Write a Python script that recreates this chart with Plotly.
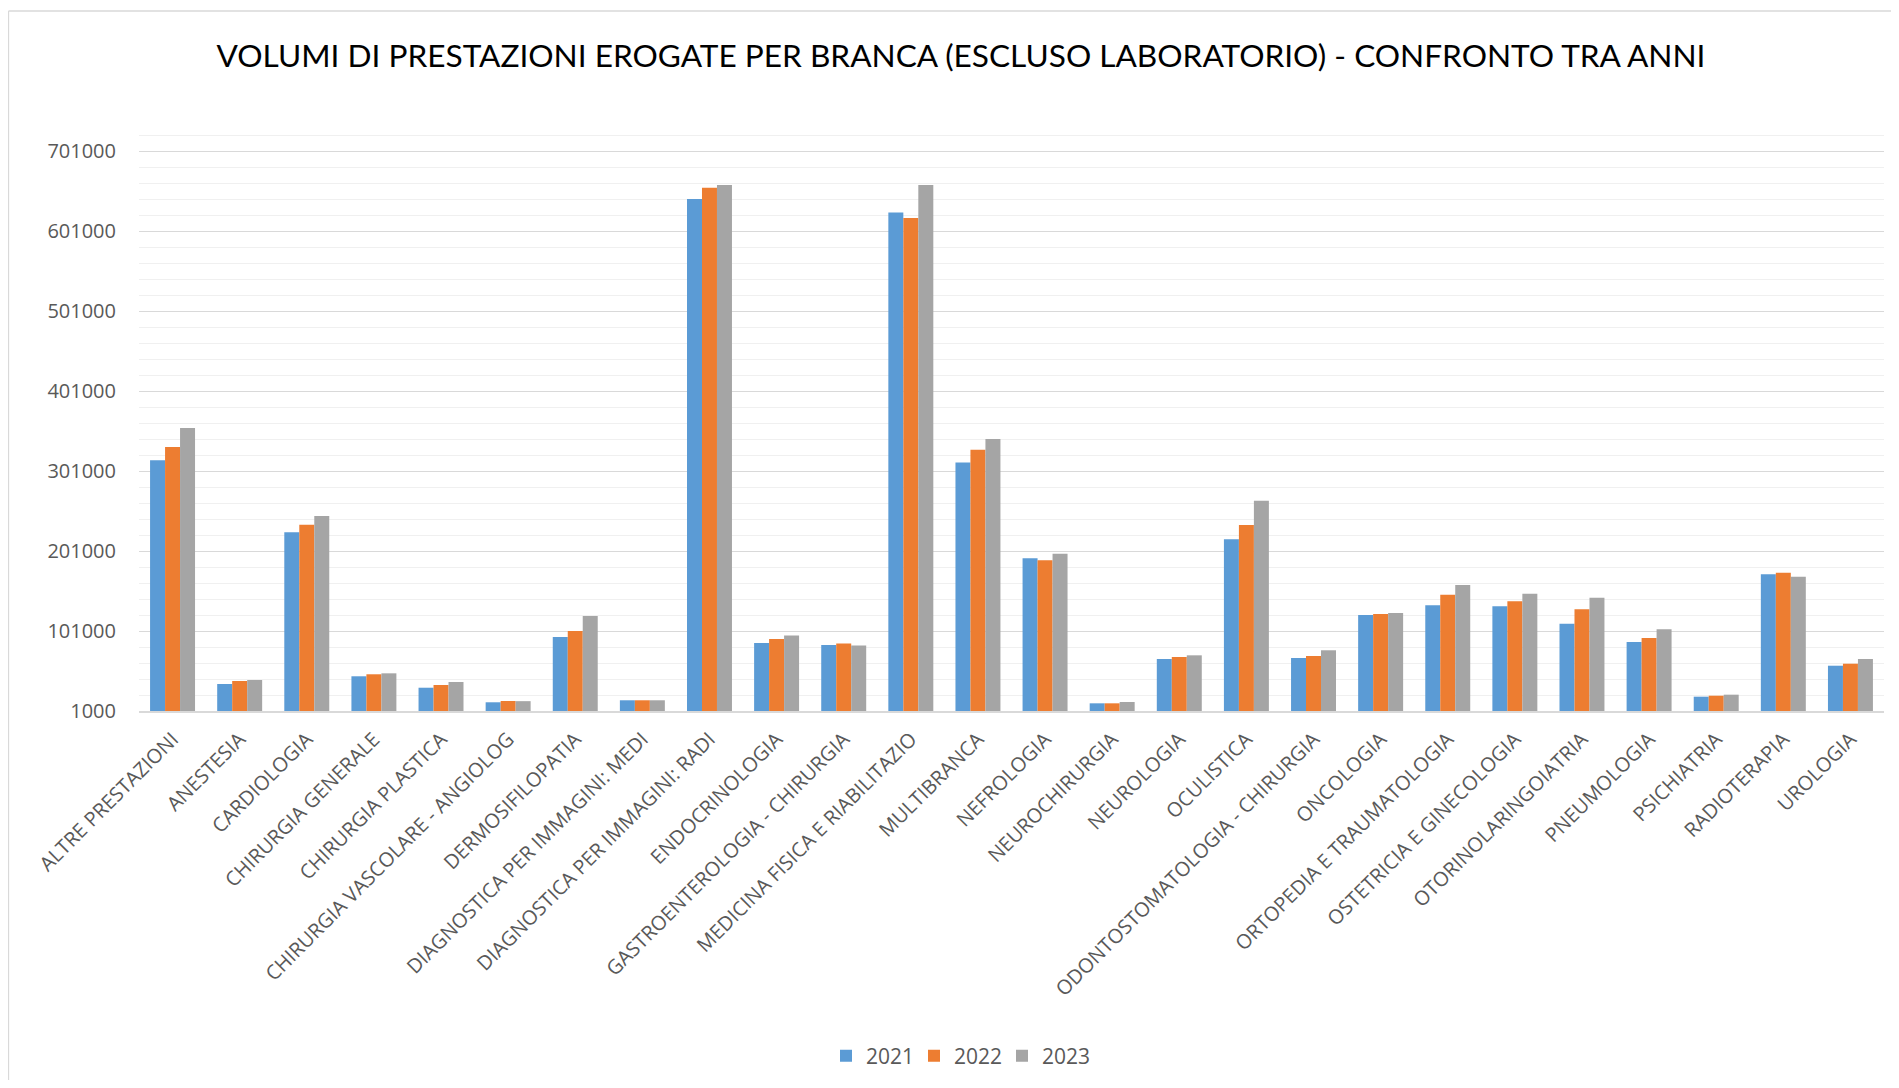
import plotly.graph_objects as go

categories = [
    "ALTRE PRESTAZIONI", "ANESTESIA", "CARDIOLOGIA", "CHIRURGIA GENERALE",
    "CHIRURGIA PLASTICA", "CHIRURGIA VASCOLARE - ANGIOLOG", "DERMOSIFILOPATIA",
    "DIAGNOSTICA PER IMMAGINI: MEDI", "DIAGNOSTICA PER IMMAGINI: RADI",
    "ENDOCRINOLOGIA", "GASTROENTEROLOGIA - CHIRURGIA", "MEDICINA FISICA E RIABILITAZIO",
    "MULTIBRANCA", "NEFROLOGIA", "NEUROCHIRURGIA", "NEUROLOGIA", "OCULISTICA",
    "ODONTOSTOMATOLOGIA - CHIRURGIA", "ONCOLOGIA", "ORTOPEDIA E TRAUMATOLOGIA",
    "OSTETRICIA E GINECOLOGIA", "OTORINOLARINGOIATRIA", "PNEUMOLOGIA",
    "PSICHIATRIA", "RADIOTERAPIA", "UROLOGIA",
]

v2021 = [314400, 34750, 224400, 44400, 30100, 11900, 93500, 14400, 641000, 85900,
         83600, 624100, 311500, 191900, 10600, 66000, 215600, 67250, 121000, 133100,
         131900, 110100, 87250, 18900, 171900, 57600]
v2022 = [331000, 38500, 233900, 46900, 33500, 13500, 101000, 14400, 655000, 90900,
         85400, 617400, 327700, 189400, 10600, 68500, 233500, 69750, 122250, 146400,
         138100, 128100, 92250, 20100, 173900, 60100]
v2023 = [354750, 39750, 244750, 48100, 37250, 13300, 119750, 14400, 658600, 95400,
         83000, 658600, 341000, 197600, 12250, 70600, 263900, 76900, 123500, 158500,
         147600, 142600, 103100, 21400, 168900, 66000]

series_names = ["2021", "2022", "2023"]
colors = ["#5B9BD5", "#ED7D31", "#A5A5A5"]

# page has an 8px body margin; figure coordinates = page coordinates - 8
OFF = 8
W, H = 1883, 1072
L, T = 139 - OFF, 119 - OFF
R = W - (1884 - OFF)
B = H - (711 - OFF)

fig = go.Figure()
for name, vals, col in zip(series_names, [v2021, v2022, v2023], colors):
    fig.add_trace(go.Bar(x=categories, y=vals, name=name,
                         marker=dict(color=col, line=dict(width=0))))

font_main = "Open Sans, Noto Sans, sans-serif"
txt = "#595959"

pw = W - L - R
ph = H - T - B

def px_to_paper_x(px):
    return (px - OFF - L) / pw

def py_to_paper_y(py):
    return (H - B - (py - OFF)) / ph

fig.update_layout(
    width=W, height=H,
    margin=dict(l=L, r=R, t=T, b=B, autoexpand=False),
    paper_bgcolor="white", plot_bgcolor="white",
    barmode="group", bargap=0.33, bargroupgap=0,
    title=dict(
        text="VOLUMI DI PRESTAZIONI EROGATE PER BRANCA (ESCLUSO LABORATORIO) - CONFRONTO TRA ANNI",
        x=(961 - OFF) / W, xref="container", xanchor="center",
        y=1 - (56 - OFF) / H, yref="container", yanchor="middle",
        font=dict(family="Lato, Open Sans, sans-serif", size=31.6, color="#000000"),
    ),
    legend=dict(
        orientation="h", xref="container", yref="container",
        x=(958 - OFF) / W, xanchor="center", y=1 - (1056 - OFF) / H, yanchor="middle",
        font=dict(family=font_main, size=21, color=txt),
        entrywidth=43, entrywidthmode="pixels",
        itemclick=False, itemdoubleclick=False,
    ),
    xaxis=dict(
        tickangle=-45, tickfont=dict(family=font_main, size=20, color=txt),
        showline=True, linecolor="#d9d9d9", linewidth=1.5,
        showgrid=False, ticks="", ticklabelstandoff=7,
    ),
    yaxis=dict(
        range=[1000, 741000], tick0=1000, dtick=100000, tickformat="d",
        tickfont=dict(family=font_main, size=20, color=txt),
        showgrid=True, gridcolor="#d9d9d9", gridwidth=1.3,
        zeroline=False, showline=False, ticks="", ticklabelstandoff=22,
        minor=dict(tick0=1000, dtick=20000, showgrid=True, gridcolor="#f0f0f0", gridwidth=1.3),
    ),
    shapes=[
        dict(type="line", xref="paper", yref="paper",
             x0=px_to_paper_x(8.5), x1=px_to_paper_x(8.5),
             y0=py_to_paper_y(11), y1=py_to_paper_y(1100),
             line=dict(color="#d9d9d9", width=1.3)),
        dict(type="line", xref="paper", yref="paper",
             x0=px_to_paper_x(8.5), x1=px_to_paper_x(1910),
             y0=py_to_paper_y(11), y1=py_to_paper_y(11),
             line=dict(color="#d9d9d9", width=1.3)),
    ],
)

fig.write_html("out.html")
